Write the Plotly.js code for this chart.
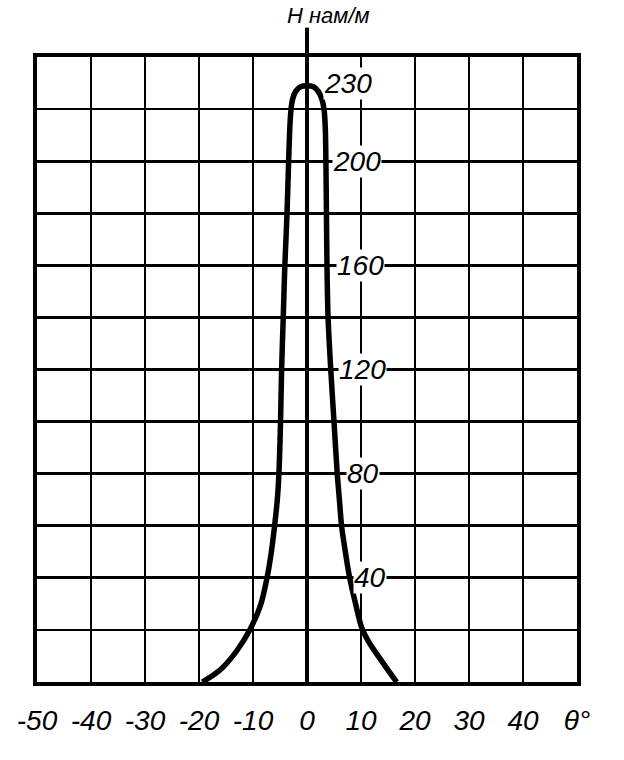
<!DOCTYPE html>
<html>
<head>
<meta charset="utf-8">
<script src="https://cdn.plot.ly/plotly-3.0.1.min.js"></script>
<style>html,body{margin:0;padding:0;background:#fff;}#chart{width:624px;height:760px;}</style>
</head>
<body>
<div id="chart"></div>
<script>
// Data
const thetaDeg = [-19.4, -17.6, -15.7, -13.0, -10.6, -8.6, -7.4, -6.6, -6.0, -5.5, -5.2, -4.9, -4.7, -4.4, -4.1, -3.7, -3.4, -3.2, -3.0, -2.7, -2.1, -1.2, 0,
                  1.2, 2.1, 2.8, 3.2, 3.4, 3.5, 3.6, 3.7, 3.9, 4.4, 5.0, 5.6, 6.0, 6.4, 7.1, 7.9, 9.0, 10.1, 11.4, 13.0, 15.2, 16.6];
const fieldH   = [0, 2.3, 5.4, 12.0, 20, 29.5, 40, 50, 60, 70, 80, 100, 120, 140, 160, 180, 200, 212, 219, 223.5, 226.8, 228.6, 229,
                  228.6, 226.8, 223.5, 219, 212, 200, 180, 160, 140, 120, 100, 80, 70, 60, 50, 40, 30, 21, 15.5, 10.5, 4, 0];
const xTickVals = [-50, -40, -30, -20, -10, 0, 10, 20, 30, 40, 50];
const xTickText = ['-50', '-40', '-30', '-20', '-10', '0', '10', '20', '30', '40', 'θ°'];
const yLabelVals = [40, 80, 120, 160, 200, 230];
const yLabelText = ['40', '80', '120', '160', '200', '230'];
const yLabelShift = [46, 39, 31, 29, 25, 16];
const yTitle = 'H нам/м';

const labelFont = {family: '"Liberation Sans Narrow", "Liberation Sans", sans-serif', size: 28, color: '#000', style: 'italic'};

const annotations = yLabelVals.map((v, i) => ({
  x: 0, y: v, xref: 'x', yref: 'y', text: yLabelText[i], showarrow: false,
  xanchor: 'left', yanchor: 'middle', xshift: yLabelShift[i],
  bgcolor: '#fff', borderpad: 0, font: labelFont
}));
annotations.push({
  x: 0, y: 1.0895, xref: 'x', yref: 'paper', text: yTitle, showarrow: false,
  xanchor: 'left', yanchor: 'top', xshift: -22,
  font: Object.assign({}, labelFont, {size: 22})
});

const trace = {
  x: thetaDeg, y: fieldH, type: 'scatter', mode: 'lines',
  line: {color: '#000', width: 5.5, shape: 'spline', smoothing: 0.8},
  hoverinfo: 'skip'
};

const layout = {
  width: 624, height: 760,
  margin: {l: 37, r: 47, t: 57, b: 78},
  paper_bgcolor: '#fff', plot_bgcolor: '#fff',
  showlegend: false,
  xaxis: {
    range: [-50, 50], tickvals: xTickVals, ticktext: xTickText,
    showgrid: true, gridcolor: '#000', gridwidth: 2.8,
    zeroline: true, zerolinecolor: '#000', zerolinewidth: 4,
    showline: true, linecolor: '#000', linewidth: 4, mirror: true,
    ticks: '', tickfont: labelFont, ticklabelstandoff: 10, fixedrange: true
  },
  yaxis: {
    range: [0, 240], dtick: 20, tick0: 0,
    showgrid: true, gridcolor: '#000', gridwidth: 2.8,
    zeroline: false, showticklabels: false,
    showline: true, linecolor: '#000', linewidth: 4, mirror: true,
    ticks: '', fixedrange: true
  },
  shapes: [{
    type: 'line', xref: 'x', yref: 'paper', x0: 0, x1: 0, y0: 1, y1: 1.047,
    line: {color: '#000', width: 4}
  }],
  annotations: annotations
};

Plotly.newPlot('chart', [trace], layout, {staticPlot: true, displayModeBar: false});
</script>
</body>
</html>
